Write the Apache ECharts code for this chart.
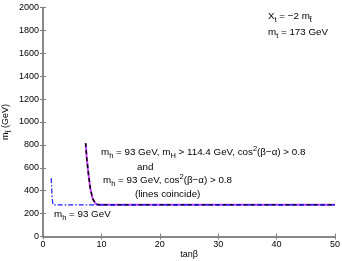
<!DOCTYPE html>
<html><head><meta charset="utf-8">
<script src="https://cdn.jsdelivr.net/npm/echarts@6/dist/echarts.min.js"></script>
<style>html,body{margin:0;padding:0;background:#fff}#c{width:342px;height:261px}</style>
</head><body><div id="c"></div>
<script>
// data
var tanbCombined = [7.3, 7.5, 7.75, 8.1, 8.5, 9.0, 9.5, 50];
var mstopCombined = [815, 680, 560, 420, 330, 287, 277, 277];
var tanbMh = [1.4, 1.55, 1.7, 50];
var mstopMh = [510, 350, 277, 277];
var xTicks = [0, 10, 20, 30, 40, 50];
var yTicks = [0, 200, 400, 600, 800, 1000, 1200, 1400, 1600, 1800, 2000];

function pairs(xs, ys) { return xs.map(function (x, i) { return [x, ys[i]]; }); }

var FONT = 'Liberation Sans, Arial, sans-serif';
var rich = {
  n: { fontSize: 9.8, fontFamily: FONT, color: '#000', lineHeight: 15, verticalAlign: 'middle' },
  sb: { fontSize: 7.5, fontFamily: FONT, color: '#000', lineHeight: 8, verticalAlign: 'bottom' },
  sp: { fontSize: 7.5, fontFamily: FONT, color: '#000', lineHeight: 8, verticalAlign: 'top' }
};
var richAx = {
  n: { fontSize: 9, fontFamily: FONT, color: '#000', lineHeight: 14, verticalAlign: 'middle' },
  sb: { fontSize: 7, fontFamily: FONT, color: '#000', lineHeight: 8, verticalAlign: 'bottom' }
};
var grey = '#808080';
var chart = echarts.init(document.getElementById('c'), null, { renderer: 'canvas' });

function txt(x, y, s) {
  return { type: 'text', x: x, y: y, style: { text: s, rich: rich, fill: '#000', align: 'left', verticalAlign: 'middle' }, z: 10 };
}

chart.setOption({
  animation: false,
  grid: { left: 43, right: 7, top: 7.5, bottom: 24.5, containLabel: false, outerBoundsMode: 'none' },
  xAxis: [{
    type: 'value', min: 0, max: 50, interval: 10, position: 'bottom',
    name: 'tanβ', nameLocation: 'middle', nameGap: 14, nameMoveOverlap: false,
    nameTextStyle: { fontSize: 9, fontFamily: FONT, color: '#000' },
    axisLine: { show: true, lineStyle: { color: grey, width: 1.5 } },
    axisTick: { show: true, inside: true, length: 3, lineStyle: { color: grey } },
    axisLabel: { fontSize: 9, fontFamily: FONT, color: '#000', margin: 4,
      formatter: function (v) { return xTicks.indexOf(v) >= 0 ? String(v) : ''; } },
    splitLine: { show: false }
  }, {
    type: 'value', min: 0, max: 50, interval: 10, position: 'top',
    axisLine: { show: true, lineStyle: { color: grey, width: 1.5 } },
    axisTick: { show: true, inside: true, length: 3, lineStyle: { color: grey } },
    axisLabel: { show: false }, splitLine: { show: false }
  }],
  yAxis: [{
    type: 'value', min: 0, max: 2000, interval: 200, position: 'left',
    name: '{n|m}{sb|t̃}{n| (GeV)}', nameLocation: 'middle', nameGap: 30, nameRotate: 90, nameMoveOverlap: false,
    nameTextStyle: { rich: richAx },
    axisLine: { show: true, lineStyle: { color: grey, width: 1.5 } },
    axisTick: { show: true, inside: true, length: 3, lineStyle: { color: grey } },
    axisLabel: { fontSize: 9, fontFamily: FONT, color: '#000', margin: 4,
      formatter: function (v) { return yTicks.indexOf(v) >= 0 ? String(v) : ''; } },
    splitLine: { show: false }
  }, {
    type: 'value', min: 0, max: 2000, interval: 200, position: 'right',
    axisLine: { show: true, lineStyle: { color: grey, width: 1.5 } },
    axisTick: { show: true, inside: true, length: 3, lineStyle: { color: grey } },
    axisLabel: { show: false }, splitLine: { show: false }
  }],
  series: [{
    type: 'line', data: pairs(tanbCombined, mstopCombined), showSymbol: false, symbol: 'none',
    lineStyle: { color: '#cc44ff', width: 2 }, z: 2
  }, {
    type: 'line', data: pairs(tanbCombined, mstopCombined), showSymbol: false, symbol: 'none',
    lineStyle: { color: '#000', width: 1.5, type: [4, 3] }, z: 3
  }, {
    type: 'line', data: pairs(tanbMh, mstopMh), showSymbol: false, symbol: 'none',
    lineStyle: { color: '#1a1aff', width: 1.2, type: [5, 2, 1.5, 2] }, z: 4
  }],
  graphic: [
    txt(268, 16, '{n|X}{sb|t}{n| = −2 m}{sb|t̃}'),
    txt(268, 32, '{n|m}{sb|t}{n| = 173 GeV}'),
    txt(101, 152, '{n|m}{sb|h}{n| = 93 GeV, m}{sb|H}{n| > 114.4 GeV, cos}{sp|2}{n|(β−α) > 0.8}'),
    txt(137, 167, '{n|and}'),
    txt(103, 180, '{n|m}{sb|h}{n| = 93 GeV, cos}{sp|2}{n|(β−α) > 0.8}'),
    txt(135, 194, '{n|(lines coincide)}'),
    txt(54, 214, '{n|m}{sb|h}{n| = 93 GeV}')
  ]
});
</script></body></html>
